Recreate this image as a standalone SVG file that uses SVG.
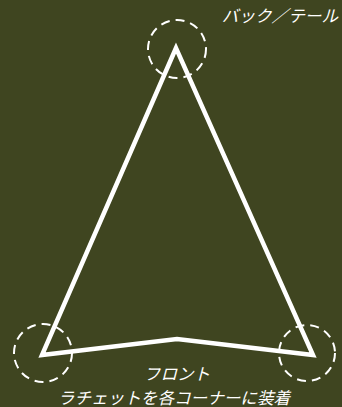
<svg xmlns="http://www.w3.org/2000/svg" width="342" height="407" viewBox="0 0 342 407">
<style>
.t{font-family:"Noto Sans CJK JP",sans-serif;font-size:16.6px;font-style:italic;fill:#fff}
.c{fill:none;stroke:#fff;stroke-width:2;stroke-dasharray:9 6}
</style>
<rect width="342" height="407" fill="#3f4520"/>
<g id="frame"><path d="M176,48 L42,355 L177,339 L313,355 Z" fill="none" stroke="#fff" stroke-width="4.5" stroke-linejoin="miter"/></g>
<g id="corner-top"><circle class="c" cx="177" cy="49" r="29"/></g>
<g id="corner-left"><circle class="c" cx="43" cy="353" r="29"/></g>
<g id="corner-right"><circle class="c" cx="307" cy="353" r="28"/></g>
<g id="labels">
<text class="t" x="338" y="22" text-anchor="end">バック／テール</text>
<text class="t" x="177" y="379.5" text-anchor="middle">フロント</text>
<text class="t" x="174" y="403.5" text-anchor="middle">ラチェットを各コーナーに装着</text>
</g>
</svg>
